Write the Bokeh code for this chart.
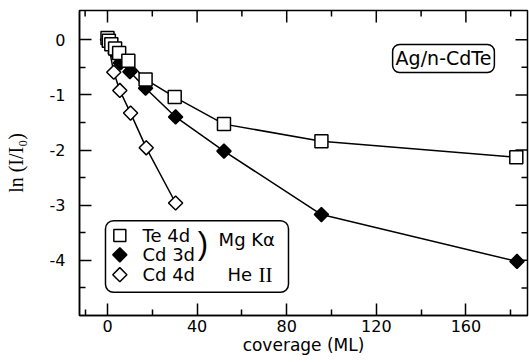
import numpy as np
from bokeh.plotting import figure
from bokeh.models import FixedTicker, Range1d, BoxAnnotation, Label
from bokeh.core.properties import value
from bokeh.embed import file_html
from bokeh.resources import INLINE

# ---- data ----
te4d_x = [0.0, 0.6, 1.7, 3.4, 5.2, 9.3, 17.0, 30.0, 52.0, 95.5, 182.5]
te4d_y = [0.03, -0.02, -0.08, -0.16, -0.24, -0.38, -0.72, -1.04, -1.53, -1.84, -2.13]

cd3d_x = [0.0, 1.7, 3.4, 5.8, 10.0, 17.0, 30.4, 52.0, 95.5, 182.8]
cd3d_y = [0.0, -0.11, -0.24, -0.42, -0.58, -0.88, -1.40, -2.02, -3.17, -4.02]

cd4d_x = [0.0, 2.8, 5.5, 10.3, 17.3, 30.4]
cd4d_y = [0.0, -0.59, -0.92, -1.33, -1.96, -2.96]

x_major_ticks = [0, 40, 80, 120, 160]
x_minor_ticks = [-10, 20, 60, 100, 140, 180]
y_major_ticks = [-4, -3, -2, -1, 0]
y_minor_ticks = [-4.5, -3.5, -2.5, -1.5, -0.5]
x_tick_labels = ["0", "40", "80", "120", "160"]
y_tick_labels = ["-4", "-3", "-2", "-1", "0"]

legend_labels = ["Te 4d", "Cd 3d", "Cd 4d"]
x_label = "coverage (ML)"
y_label = "ln (I/I\u2080)"
sample_label = "Ag/n-CdTe"

SANS = "DejaVu Sans"
SERIF = "Liberation Serif"

X0, X1 = -12.5, 187.5
Y0, Y1 = -5.0, 0.53

p = figure(width=529, height=362, x_range=Range1d(X0, X1), y_range=Range1d(Y0, Y1),
           output_backend="svg", toolbar_location=None,
           min_border_left=79, min_border_right=2, min_border_top=10, min_border_bottom=47)
p.xgrid.visible = False
p.ygrid.visible = False
p.outline_line_color = "black"
p.outline_line_width = 1.5
p.background_fill_color = "white"
p.border_fill_color = "white"

def style_axis(ax):
    ax.axis_line_color = "black"
    ax.axis_line_width = 1.5
    ax.major_tick_in = 12
    ax.major_tick_out = 0
    ax.minor_tick_in = 6
    ax.minor_tick_out = 0
    ax.major_tick_line_width = 1.5
    ax.minor_tick_line_width = 1.5
    ax.major_tick_line_color = "black"
    ax.minor_tick_line_color = "black"
    ax.major_label_text_font = SANS
    ax.major_label_text_font_size = "16px"
    ax.major_label_text_color = "black"
    ax.axis_label_text_color = "black"
    ax.axis_label_text_font_style = "normal"

xa = p.xaxis[0]
xa.ticker = FixedTicker(ticks=x_major_ticks, minor_ticks=x_minor_ticks)
xa.major_label_overrides = dict(zip(x_major_ticks, x_tick_labels))
style_axis(xa)
xa.major_label_standoff = 4
xa.axis_label = x_label
xa.axis_label_text_font = SANS
xa.axis_label_text_font_size = "17px"
xa.axis_label_standoff = 0

ya = p.yaxis[0]
ya.ticker = FixedTicker(ticks=y_major_ticks, minor_ticks=y_minor_ticks)
ya.major_label_overrides = dict(zip(y_major_ticks, y_tick_labels))
style_axis(ya)
ya.major_label_standoff = 14
ya.axis_label = y_label
ya.axis_label_text_font = SERIF
ya.axis_label_text_font_size = "20px"
ya.axis_label_standoff = 20

# ticks on the top and right frame edges (inward)
tick_dy_major = 12 / 55.15
tick_dy_minor = 6 / 55.15
tick_dx_major = 12 / 2.24
tick_dx_minor = 6 / 2.24
p.segment(x0=x_major_ticks, y0=[Y1] * len(x_major_ticks), x1=x_major_ticks,
          y1=[Y1 - tick_dy_major] * len(x_major_ticks), line_color="black", line_width=1.5)
p.segment(x0=x_minor_ticks, y0=[Y1] * len(x_minor_ticks), x1=x_minor_ticks,
          y1=[Y1 - tick_dy_minor] * len(x_minor_ticks), line_color="black", line_width=1.5)
p.segment(x0=[X1] * len(y_major_ticks), y0=y_major_ticks, x1=[X1 - tick_dx_major] * len(y_major_ticks),
          y1=y_major_ticks, line_color="black", line_width=1.5)
p.segment(x0=[X1] * len(y_minor_ticks), y0=y_minor_ticks, x1=[X1 - tick_dx_minor] * len(y_minor_ticks),
          y1=y_minor_ticks, line_color="black", line_width=1.5)

# curves
p.line(cd4d_x, cd4d_y, line_color="black", line_width=1.5)
p.line(cd3d_x, cd3d_y, line_color="black", line_width=1.5)
p.line(te4d_x, te4d_y, line_color="black", line_width=1.5)

# markers
p.scatter(cd4d_x, cd4d_y, marker="square", angle=np.pi / 4, size=10,
          fill_color="white", line_color="black", line_width=1.5)
p.scatter(cd3d_x, cd3d_y, marker="square", angle=np.pi / 4, size=10,
          fill_color="black", line_color="black", line_width=1.5)
p.scatter(te4d_x, te4d_y, marker="square", size=13,
          fill_color="white", line_color="black", line_width=1.5)

# legend box
box = BoxAnnotation(left=-0.9, right=80.8, top=-3.28, bottom=-4.58,
                    fill_color="white", fill_alpha=1.0, line_color="black", line_alpha=1.0,
                    line_width=1.5, border_radius=8, level="underlay")
p.add_layout(box)

leg_x = [5.5, 5.5, 5.5]
leg_y = [-3.55, -3.90, -4.26]
p.scatter([leg_x[0]], [leg_y[0]], marker="square", size=12,
          fill_color="white", line_color="black", line_width=1.5)
p.scatter([leg_x[1]], [leg_y[1]], marker="square", angle=np.pi / 4, size=10,
          fill_color="black", line_color="black", line_width=1.5)
p.scatter([leg_x[2]], [leg_y[2]], marker="square", angle=np.pi / 4, size=10,
          fill_color="white", line_color="black", line_width=1.5)
p.text([15.6] * 3, leg_y, text=legend_labels, text_font=value(SANS),
       text_font_size="18px", text_baseline="middle", text_align="left", text_color="black")
p.text([42.6], [-3.69], text=[")"], text_font=value("Liberation Sans"), text_font_size="31px",
       text_baseline="middle", text_align="center", text_color="black")
p.text([49.6], [-3.63], text=["Mg K\u03b1"], text_font=value(SANS), text_font_size="18px",
       text_baseline="middle", text_align="left", text_color="black")
p.text([53.6], [-4.26], text=["He"], text_font=value(SANS), text_font_size="18px",
       text_baseline="middle", text_align="left", text_color="black")
p.text([67.4], [-4.26], text=["II"], text_font=value(SERIF), text_font_size="21px",
       text_baseline="middle", text_align="left", text_color="black")

lab = Label(x=150.0, y=-0.34, text=sample_label, text_font=SANS, text_font_size="19px",
            text_align="center", text_baseline="middle", text_color="black",
            border_line_color="black", border_line_width=1.5, border_radius=7,
            background_fill_color="white", padding=3)
p.add_layout(lab)

open("out.html", "w").write(file_html(p, INLINE))
